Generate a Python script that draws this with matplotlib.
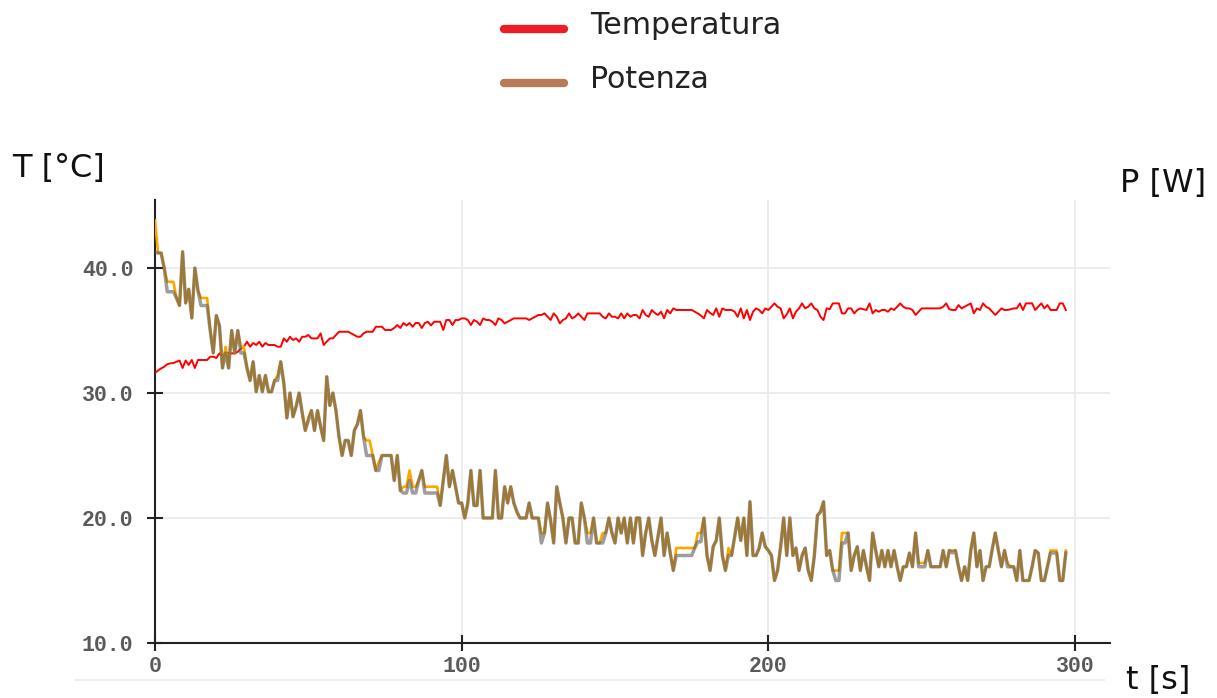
import matplotlib
matplotlib.use("Agg")
import matplotlib.pyplot as plt
from matplotlib.lines import Line2D

# ---- data: one sample per second ----
time_s = list(range(0, 298))

temperatura = [
    31.60, 31.80, 31.97, 32.10, 32.30, 32.37, 32.40, 32.50, 32.60, 32.00,
    32.60, 32.24, 32.64, 32.00, 32.64, 32.64, 32.64, 32.64, 32.90, 32.90,
    32.80, 33.17, 32.90, 33.30, 33.17, 33.17, 33.17, 33.30, 33.57, 33.70,
    34.10, 33.70, 34.00, 33.84, 34.10, 33.70, 34.00, 33.84, 33.84, 33.84,
    33.70, 33.70, 34.37, 34.10, 34.50, 34.24, 34.37, 34.10, 34.50, 34.50,
    34.64, 34.37, 34.37, 34.37, 34.77, 33.84, 34.10, 34.37, 34.37, 34.64,
    34.90, 34.90, 34.90, 34.90, 34.77, 34.64, 34.50, 34.50, 34.77, 34.90,
    34.90, 34.90, 35.30, 35.30, 35.30, 35.04, 35.04, 35.04, 35.20, 35.44,
    35.20, 35.60, 35.40, 35.60, 35.30, 35.60, 35.60, 35.20, 35.60, 35.70,
    35.40, 35.70, 35.70, 35.70, 35.04, 35.84, 35.84, 35.44, 35.84, 35.84,
    35.97, 35.97, 35.84, 35.44, 35.84, 35.70, 35.44, 35.97, 35.84, 35.84,
    35.70, 35.44, 35.97, 35.84, 35.57, 35.70, 35.84, 35.97, 35.97, 35.97,
    35.97, 35.97, 35.84, 35.97, 36.10, 36.24, 36.24, 36.37, 36.10, 35.84,
    36.37, 36.10, 35.57, 35.84, 35.97, 36.37, 35.97, 36.10, 36.37, 36.10,
    35.84, 36.37, 36.37, 36.37, 36.37, 36.37, 36.10, 35.97, 36.37, 36.10,
    36.10, 35.97, 36.37, 35.97, 36.37, 36.10, 36.24, 36.24, 35.97, 36.64,
    36.24, 36.10, 36.64, 36.40, 36.24, 36.50, 35.97, 36.64, 36.37, 36.77,
    36.64, 36.64, 36.64, 36.64, 36.64, 36.64, 36.50, 36.37, 36.20, 35.97,
    36.64, 36.40, 36.24, 36.77, 36.10, 36.77, 36.64, 36.64, 36.64, 36.50,
    36.10, 36.77, 35.97, 36.64, 35.84, 36.50, 36.77, 36.64, 36.37, 36.77,
    36.64, 36.90, 37.17, 36.90, 36.77, 35.97, 36.30, 36.77, 35.97, 36.50,
    36.77, 37.17, 36.77, 36.90, 37.17, 36.77, 36.64, 36.10, 35.84, 36.77,
    36.70, 37.17, 37.17, 37.17, 36.37, 36.37, 36.77, 36.77, 36.37, 36.64,
    36.77, 36.70, 36.64, 37.17, 36.37, 36.64, 36.50, 36.64, 36.64, 36.50,
    36.77, 36.64, 36.90, 37.17, 36.90, 36.77, 36.77, 36.64, 36.24, 36.50,
    36.77, 36.77, 36.77, 36.77, 36.77, 36.77, 36.77, 36.90, 37.17, 36.70,
    36.64, 36.64, 37.04, 36.77, 36.90, 37.04, 37.17, 36.37, 36.77, 36.64,
    37.17, 36.90, 36.77, 36.50, 36.24, 36.50, 36.77, 36.64, 36.64, 36.70,
    36.77, 36.77, 37.17, 36.64, 37.17, 37.17, 37.17, 36.64, 36.90, 37.17,
    36.77, 37.04, 36.64, 36.64, 36.64, 37.17, 37.17, 36.64,
]

# measured power (grey trace)
potenza_misurata = [
    41.3, 41.2, 41.2, 40.0, 38.1, 38.1, 38.1, 37.6, 37.0, 41.3,
    37.2, 38.3, 36.0, 40.0, 38.2, 37.0, 37.0, 37.0, 35.0, 33.2,
    36.2, 35.4, 32.0, 33.2, 32.0, 35.0, 33.2, 35.0, 33.2, 33.2,
    32.0, 31.0, 32.5, 30.1, 31.4, 30.1, 31.4, 30.1, 30.1, 31.0,
    31.0, 32.5, 30.8, 28.0, 30.0, 28.1, 28.9, 30.0, 28.4, 27.0,
    27.8, 28.6, 27.0, 28.6, 27.3, 26.2, 31.3, 29.0, 30.0, 28.6,
    26.5, 25.0, 26.2, 26.2, 25.0, 27.0, 27.5, 28.6, 26.5, 25.0,
    25.0, 25.0, 23.8, 23.8, 25.0, 25.0, 25.0, 25.0, 23.0, 25.0,
    22.2, 22.0, 22.0, 23.0, 22.0, 22.0, 23.0, 23.8, 22.0, 22.0,
    22.0, 22.0, 22.0, 21.0, 23.0, 25.0, 22.5, 23.8, 22.5, 21.2,
    21.2, 20.0, 21.2, 23.8, 21.0, 21.0, 23.8, 20.0, 20.0, 20.0,
    20.0, 23.8, 20.0, 20.0, 22.5, 21.2, 22.5, 21.2, 20.5, 20.0,
    20.0, 20.0, 21.2, 20.0, 20.0, 20.0, 18.0, 18.8, 21.2, 19.8,
    18.0, 22.5, 21.2, 20.0, 18.0, 20.0, 20.0, 18.0, 18.0, 21.2,
    20.0, 18.0, 18.0, 20.0, 18.0, 18.0, 18.0, 18.8, 20.0, 18.8,
    18.0, 20.0, 18.8, 20.0, 18.0, 20.0, 18.0, 20.0, 20.0, 17.0,
    18.8, 20.0, 18.2, 17.0, 18.5, 20.0, 17.0, 18.8, 17.2, 15.8,
    17.0, 17.0, 17.0, 17.0, 17.0, 17.0, 17.6, 18.1, 18.1, 20.0,
    17.0, 15.8, 17.7, 18.2, 20.0, 17.0, 15.8, 17.0, 17.0, 18.5,
    20.0, 18.2, 20.0, 17.0, 21.3, 17.0, 17.0, 17.6, 18.8, 17.7,
    17.4, 17.0, 15.0, 15.8, 17.7, 20.0, 17.0, 20.0, 17.0, 17.6,
    15.8, 17.0, 17.6, 15.8, 15.0, 17.0, 20.2, 20.5, 21.3, 17.0,
    17.4, 15.8, 15.0, 15.0, 18.0, 18.0, 18.8, 15.8, 17.0, 17.7,
    15.8, 17.4, 16.1, 15.0, 18.8, 17.4, 16.1, 17.4, 16.1, 17.4,
    16.1, 17.4, 16.1, 15.0, 16.1, 16.1, 17.2, 16.1, 18.8, 16.1,
    16.1, 16.1, 17.4, 16.1, 16.1, 16.1, 16.1, 17.4, 16.1, 17.4,
    17.2, 17.4, 16.1, 15.0, 16.1, 15.0, 17.4, 18.8, 16.1, 17.4,
    15.0, 16.1, 16.1, 17.5, 18.8, 17.4, 16.1, 17.4, 16.1, 16.1,
    16.1, 15.0, 17.4, 15.0, 15.0, 15.0, 16.1, 17.4, 17.2, 15.0,
    15.0, 16.1, 17.2, 17.2, 17.2, 15.0, 15.0, 17.2,
]

# requested power (orange trace)
potenza_richiesta = [
    43.8, 41.2, 41.2, 40.0, 38.9, 38.9, 38.9, 37.6, 37.0, 41.3,
    37.2, 38.3, 36.0, 40.0, 38.2, 37.6, 37.6, 37.6, 35.0, 33.2,
    36.2, 35.4, 32.0, 33.7, 32.0, 35.0, 33.2, 35.0, 33.7, 33.7,
    32.0, 31.0, 32.5, 30.1, 31.4, 30.1, 31.4, 30.1, 30.1, 31.0,
    31.4, 32.5, 30.8, 28.0, 30.0, 28.1, 28.9, 30.0, 28.4, 27.0,
    28.0, 28.6, 27.0, 28.6, 27.3, 26.2, 31.3, 29.0, 30.0, 28.6,
    26.5, 25.0, 26.2, 26.2, 25.0, 27.0, 27.5, 28.6, 26.5, 26.2,
    26.2, 25.0, 23.8, 24.5, 25.0, 25.0, 25.0, 25.0, 23.0, 25.0,
    22.2, 22.5, 22.5, 23.8, 22.5, 22.5, 23.0, 23.8, 22.5, 22.5,
    22.5, 22.5, 22.5, 21.0, 23.0, 25.0, 22.5, 23.8, 22.5, 21.2,
    21.2, 20.0, 21.2, 23.8, 21.0, 21.0, 23.8, 20.0, 20.0, 20.0,
    20.0, 23.8, 20.0, 20.0, 22.5, 21.2, 22.5, 21.2, 20.5, 20.0,
    20.0, 20.0, 21.2, 20.0, 20.0, 20.0, 18.8, 18.8, 21.2, 19.8,
    18.0, 22.5, 21.2, 20.0, 18.0, 20.0, 20.0, 18.0, 18.0, 21.2,
    20.0, 18.8, 18.8, 20.0, 18.0, 18.0, 18.8, 18.8, 20.0, 18.8,
    18.0, 20.0, 18.8, 20.0, 18.0, 20.0, 18.0, 20.0, 20.0, 17.0,
    18.8, 20.0, 18.2, 17.0, 18.5, 20.0, 17.0, 18.8, 17.2, 15.8,
    17.6, 17.6, 17.6, 17.6, 17.6, 17.6, 17.6, 18.8, 18.8, 20.0,
    17.0, 15.8, 17.7, 18.2, 20.0, 17.0, 15.8, 17.6, 17.0, 18.5,
    20.0, 18.2, 20.0, 17.0, 21.3, 17.0, 17.0, 17.6, 18.8, 17.7,
    17.4, 17.0, 15.0, 15.8, 17.7, 20.0, 17.0, 20.0, 17.0, 17.6,
    15.8, 17.0, 17.6, 15.8, 15.0, 17.0, 20.2, 20.5, 21.3, 17.0,
    17.4, 15.8, 15.8, 15.8, 18.8, 18.8, 18.8, 15.8, 17.0, 17.7,
    15.8, 17.4, 16.1, 15.0, 18.8, 17.4, 16.1, 17.4, 16.1, 17.4,
    16.1, 17.4, 16.1, 15.0, 16.1, 16.1, 17.2, 16.1, 18.8, 16.4,
    16.4, 16.4, 17.4, 16.1, 16.1, 16.1, 16.1, 17.4, 16.1, 17.4,
    17.4, 17.4, 16.1, 15.0, 16.1, 15.0, 17.4, 18.8, 16.1, 17.4,
    15.0, 16.1, 16.1, 17.5, 18.8, 17.4, 16.1, 17.4, 16.4, 16.1,
    16.1, 15.0, 17.4, 15.0, 15.0, 15.0, 16.1, 17.4, 17.2, 15.0,
    15.0, 16.1, 17.4, 17.4, 17.4, 15.0, 15.0, 17.4,
]

x_ticks = [0, 100, 200, 300]
x_tick_labels = ["0", "100", "200", "300"]
y_ticks = [10, 20, 30, 40]
y_tick_labels = ["10.0", "20.0", "30.0", "40.0"]

legend_labels = ["Temperatura", "Potenza"]
legend_colors = ["#ed1c24", "#b97a57"]

# ---- figure ----
W, H = 1217, 698
fig = plt.figure(figsize=(W / 100, H / 100), dpi=100)
fig.patch.set_facecolor("white")


def fx(px):
    return px / W


def fy(py):
    return 1 - py / H


ax = fig.add_axes([fx(155), fy(643), fx(1110) - fx(155), fy(200) - fy(643)])
ax.set_xlim(0, 311.4)
ax.set_ylim(10, 45.44)

ax.plot(time_s, temperatura, color="#ff0000", lw=1.4, zorder=3)
ax.plot(time_s, potenza_richiesta, color="#ffa500", lw=1.9, zorder=4)
ax.plot(time_s, potenza_misurata, color="#5c5c5c", lw=2.5, alpha=0.6, zorder=5)

ax.set_xticks(x_ticks)
ax.set_xticklabels(x_tick_labels)
ax.set_yticks(y_ticks)
ax.set_yticklabels(y_tick_labels)
for lab in ax.get_xticklabels() + ax.get_yticklabels():
    lab.set_fontfamily("Liberation Mono")
    lab.set_fontweight("bold")
    lab.set_fontsize(15.5)
    lab.set_color("#5a5a5a")
ax.tick_params(axis="both", direction="inout", length=11, width=1.5, color="#222222")
ax.tick_params(axis="y", pad=10)
ax.tick_params(axis="x", pad=4)

ax.grid(True, color="#ececec", lw=1.4)
ax.set_axisbelow(True)
for side in ("top", "right"):
    ax.spines[side].set_visible(False)
for side in ("left", "bottom"):
    ax.spines[side].set_color("#222222")
    ax.spines[side].set_linewidth(1.5)

# axis titles
fig.text(fx(12), fy(168), "T [°C]", fontsize=23, ha="left", va="center", color="#111111")
fig.text(fx(1120), fy(184), "P [W]", fontsize=23, ha="left", va="center", color="#111111")
fig.text(fx(1126), fy(680), "t [s]", fontsize=23, ha="left", va="center", color="#111111")

# legend
legend_rows = [29, 83]
for label, color, row in zip(legend_labels, legend_colors, legend_rows):
    fig.add_artist(Line2D([fx(504), fx(564)], [fy(row), fy(row)], transform=fig.transFigure,
                          color=color, lw=6, solid_capstyle="round"))
    fig.text(fx(590), fy(row - 3), label, fontsize=21.7, ha="left", va="center", color="#222222")

# separator under the plot
fig.add_artist(Line2D([fx(76), fx(1104)], [fy(680), fy(680)], transform=fig.transFigure,
                      color="#eeeeee", lw=1.6))

fig.savefig("out.png", dpi=100, facecolor="white")
